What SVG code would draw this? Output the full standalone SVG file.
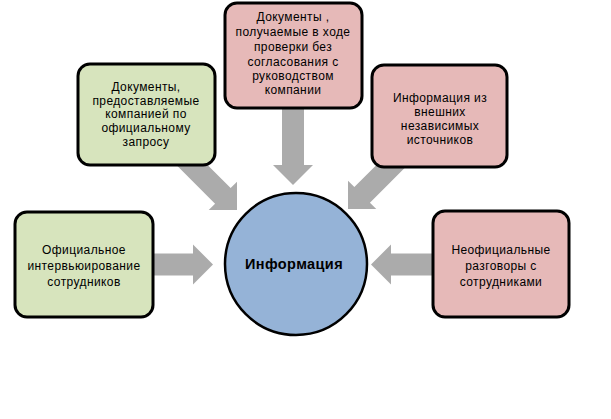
<svg xmlns="http://www.w3.org/2000/svg" width="611" height="419" viewBox="0 0 611 419">
<style>
.box{stroke:#000;stroke-width:3}
.g{fill:#D7E4BD}
.p{fill:#E6B9B8}
.arr{fill:#ABABAB}
text{font-family:"Liberation Sans",Arial,sans-serif;font-size:12px;fill:#000;text-anchor:middle;letter-spacing:0.4px}
.c{font-size:14.5px;font-weight:bold;letter-spacing:0.4px}
</style>
<defs>
<polygon id="a" points="-80,-11 -20,-11 -20,-20 0,0 -20,20 -20,11 -80,11"/>
</defs>
<rect width="611" height="419" fill="#fff"/>
<g id="connectors">
<use href="#a" class="arr" transform="translate(213,264.5)"/>
<use href="#a" class="arr" transform="translate(371,264.5) rotate(180)"/>
<use href="#a" class="arr" transform="translate(293,185) rotate(90)"/>
<use href="#a" class="arr" transform="translate(237,210) rotate(45)"/>
<use href="#a" class="arr" transform="translate(348,209) rotate(135)"/>
</g>
<g id="center">
<circle cx="296" cy="264" r="71" fill="#95B3D7" stroke="#000" stroke-width="2.5"/>
<text class="c" x="294" y="269">Информация</text>
</g>
<g id="left">
<rect class="box g" x="15" y="212" width="138" height="105" rx="12"/>
<text x="84" y="254">Официальное</text>
<text x="84" y="270">интервьюирование</text>
<text x="84" y="286">сотрудников</text>
</g>
<g id="topleft">
<rect class="box g" x="78" y="64" width="137" height="101" rx="12"/>
<text x="146" y="91">Документы,</text>
<text x="146" y="105">предоставляемые</text>
<text x="146" y="118">компанией по</text>
<text x="146" y="132">официальному</text>
<text x="146" y="146">запросу</text>
</g>
<g id="top">
<rect class="box p" x="225" y="3" width="137" height="105" rx="12"/>
<text x="293" y="21">Документы ,</text>
<text x="293" y="36">получаемые в ходе</text>
<text x="293" y="51">проверки без</text>
<text x="293" y="66">согласования с</text>
<text x="293" y="80">руководством</text>
<text x="293" y="94">компании</text>
</g>
<g id="topright">
<rect class="box p" x="372" y="65" width="135" height="102" rx="12"/>
<text x="440" y="102">Информация из</text>
<text x="440" y="116">внешних</text>
<text x="440" y="130">независимых</text>
<text x="440" y="144">источников</text>
</g>
<g id="right">
<rect class="box p" x="433" y="211" width="136" height="106" rx="12"/>
<text x="501" y="254">Неофициальные</text>
<text x="501" y="270">разговоры с</text>
<text x="501" y="286">сотрудниками</text>
</g>
</svg>
